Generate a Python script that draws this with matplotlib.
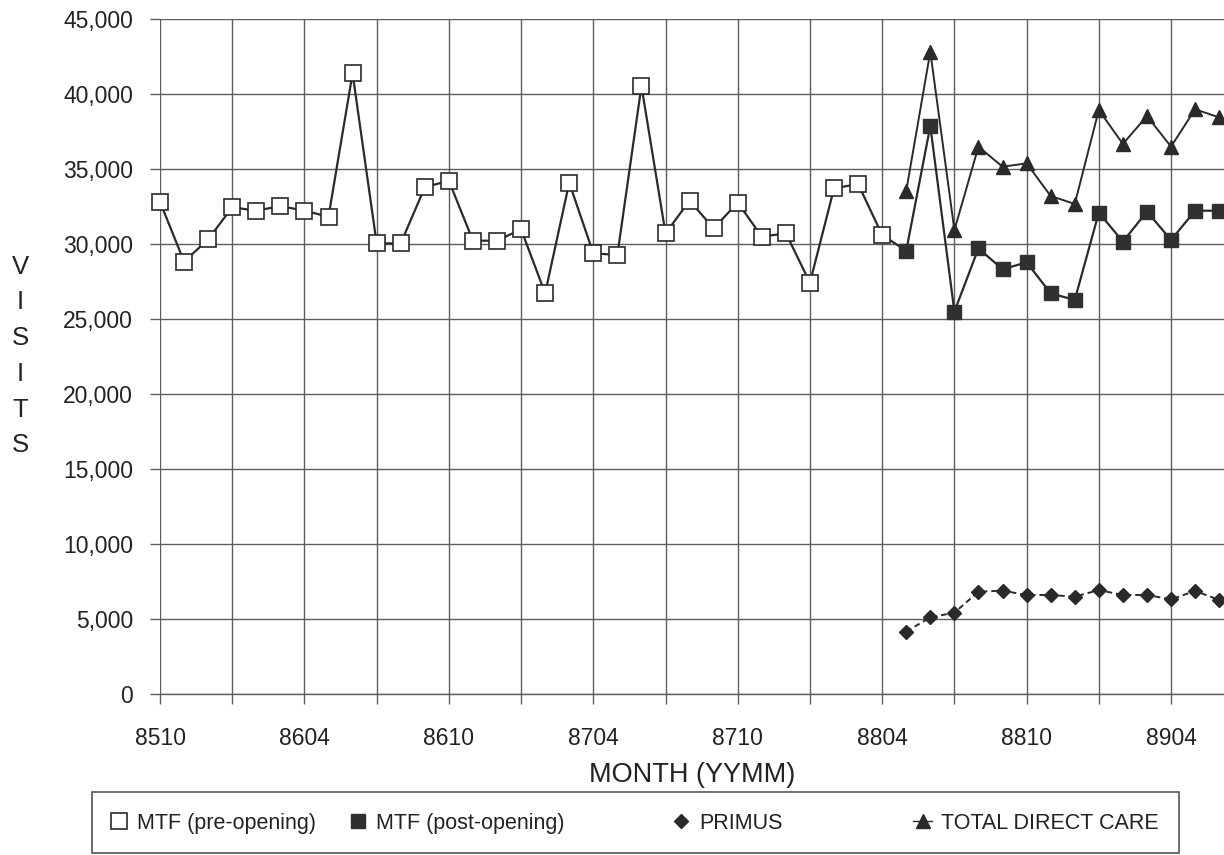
import matplotlib.pyplot as plt
from matplotlib.patches import Rectangle
from matplotlib.ticker import FuncFormatter, MultipleLocator
import numpy as np

plt.rc('font', family=['Liberation Sans', 'DejaVu Sans'])

# months counted from 8510 (index 0) to 8906 (index 44)
tick_pos = [0, 6, 12, 18, 24, 30, 36, 42]
tick_labels = ['8510', '8604', '8610', '8704', '8710', '8804', '8810', '8904']

# MTF visits before the opening, 8510 .. 8804
mtf_pre = [32820, 28820, 30310, 32450, 32220, 32530, 32220, 31820, 41380, 30040,
           30040, 33780, 34220, 30220, 30220, 30980, 26710, 34090, 29380, 29270,
           40530, 30710, 32890, 31040, 32760, 30490, 30710, 27420, 33710, 34000,
           30600]
# after the opening, 8805 .. 8906
mtf_post = [29550, 37870, 25490, 29710, 28310, 28780, 26710, 26270, 32090, 30160,
            32160, 30270, 32220, 32220]
primus = [4160, 5110, 5420, 6820, 6890, 6600, 6600, 6490, 6930, 6600,
          6600, 6310, 6870, 6270]
total_care = [33550, 42820, 30930, 36490, 35150, 35380, 33200, 32670, 38930, 36670,
              38530, 36490, 38980, 38440]

x_pre = np.arange(len(mtf_pre))
x_post = np.arange(len(mtf_pre), len(mtf_pre) + len(mtf_post))
x_all = np.concatenate([x_pre, x_post])

W, H = 1224, 855
fig = plt.figure(figsize=(W / 100, H / 100), dpi=100)
ax = fig.add_axes([160 / W, 1 - 694 / H, (W - 160) / W, (694 - 19) / H])

dark = '#2a2a2a'
ax.plot(x_all, mtf_pre + mtf_post, color=dark, lw=1.6, zorder=3)
ax.plot(x_post, total_care, color=dark, lw=1.4, zorder=3)
ax.plot(x_post, primus, color=dark, lw=1.4, ls=(0, (3, 2)), zorder=3)

h_pre, = ax.plot(x_pre, mtf_pre, ls='none', marker='s', ms=11.5,
                 mfc='white', mec=dark, mew=1.2, zorder=4, clip_on=False)
h_post, = ax.plot(x_post, mtf_post, ls='none', marker='s', ms=10.5,
                  mfc='#303030', mec='#303030', zorder=4, clip_on=False)
h_prim, = ax.plot(x_post, primus, ls='none', marker='D', ms=7,
                  mfc=dark, mec=dark, zorder=4, clip_on=False)
h_tot, = ax.plot(x_post, total_care, ls='none', marker='^', ms=10,
                 mfc=dark, mec=dark, zorder=4, clip_on=False)
h_tot_leg = ax.plot([], [], color=dark, lw=1.0, marker='^', ms=10)[0]

ax.set_xlim(0, 44.2)
ax.set_ylim(0, 45000)
ax.set_xticks(tick_pos)
ax.set_xticklabels(tick_labels)
ax.xaxis.set_minor_locator(MultipleLocator(3))
ax.yaxis.set_major_locator(MultipleLocator(5000))
ax.yaxis.set_major_formatter(FuncFormatter(lambda v, p: f'{v:,.0f}'))

grid_c = '#5e5e5e'
ax.grid(which='both', color=grid_c, lw=1.0)
ax.set_axisbelow(True)
for s in ['top', 'right', 'left']:
    ax.spines[s].set_visible(False)
ax.spines['bottom'].set_color(grid_c)
ax.spines['bottom'].set_linewidth(1.0)
ax.tick_params(axis='both', which='both', direction='out', length=7.5,
               width=1.0, color=grid_c, labelsize=16.5, labelcolor='#222222')
ax.tick_params(axis='y', pad=12)
ax.tick_params(axis='x', pad=16)

ax.set_xlabel('MONTH (YYMM)', fontsize=19.5, color='#222222', labelpad=9)
fig.text(20 / W, 1 - 356 / H, 'V\nI\nS\nI\nT\nS', fontsize=18.5, ha='center',
         va='center', linespacing=1.62, color='#222222')

# legend box along the bottom
fig.patches.append(Rectangle((92 / W, 1 - 853 / H), (1179 - 92) / W, (853 - 792) / H,
                             transform=fig.transFigure, fill=False,
                             edgecolor='#555555', lw=1.2))
entries = [(h_pre, 'MTF (pre-opening)', 118), (h_post, 'MTF (post-opening)', 357),
           (h_prim, 'PRIMUS', 680), (h_tot_leg, 'TOTAL DIRECT CARE', 922)]
for h, lab, mx in entries:
    fig.legend([h], [lab], loc='center left', bbox_to_anchor=((mx - 9) / W, 1 - 823 / H),
               frameon=False, borderpad=0, borderaxespad=0, handlelength=0.9,
               handletextpad=0.4, fontsize=15.5, markerscale=0.95,
               labelcolor='#222222')

fig.savefig('out.png', dpi=100)
